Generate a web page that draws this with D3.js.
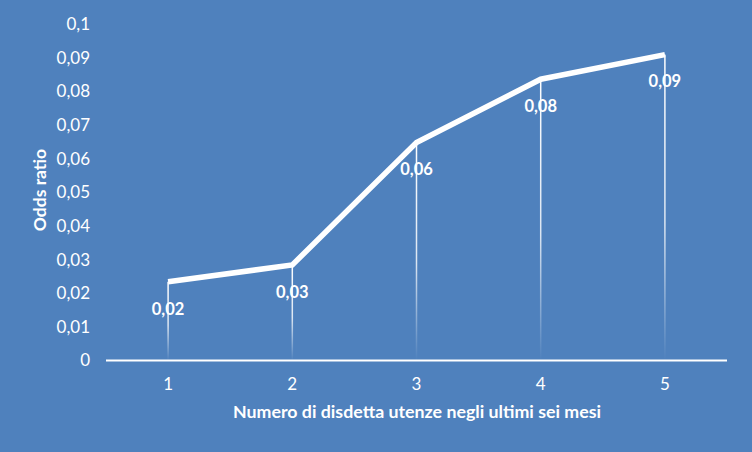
<!DOCTYPE html>
<html><head><meta charset="utf-8">
<script src="https://cdn.jsdelivr.net/npm/d3@7"></script>
<style>body{margin:0;background:#4F81BD;} svg{display:block;}</style>
</head><body><svg id="c" width="752" height="452"></svg>
<script>
const categories = ["1","2","3","4","5"];
const values = [0.0234, 0.0284, 0.0648, 0.0836, 0.0909];
const yTicks = [0,0.01,0.02,0.03,0.04,0.05,0.06,0.07,0.08,0.09,0.1];
const xTitle = "Numero di disdetta utenze negli ultimi sei mesi";
const yTitle = "Odds ratio";

const svg = d3.select("#c");
const font = "Lato, 'Open Sans', sans-serif";
svg.append("rect").attr("width",752).attr("height",452).attr("fill","#4F81BD");
const x = d3.scaleBand().domain(categories).range([106,727]);
const y = d3.scaleLinear().domain([0,0.1]).range([360.5,24]);
const fmt = v => d3.format(".2~f")(v).replace(".",",");

const defs = svg.append("defs");
const g = defs.append("linearGradient").attr("id","drop").attr("x1",0).attr("x2",0).attr("y1",0).attr("y2",1);
g.append("stop").attr("offset","0%").attr("stop-color","#fff").attr("stop-opacity",1);
g.append("stop").attr("offset","55%").attr("stop-color","#fff").attr("stop-opacity",0.8);
g.append("stop").attr("offset","100%").attr("stop-color","#fff").attr("stop-opacity",0);

// y tick labels
svg.append("g").selectAll("text").data(yTicks).join("text")
  .attr("x",90).attr("y",d=>y(d)).attr("dy","0.35em").attr("text-anchor","end")
  .attr("fill","#fff").attr("font-family",font).attr("font-size",17)
  .text(d=>d===0?"0":fmt(d));

// drop lines
svg.append("g").selectAll("rect").data(values).join("rect")
  .attr("x",(d,i)=>x(categories[i])+x.bandwidth()/2-0.75).attr("width",1.5)
  .attr("y",d=>y(d)).attr("height",d=>y(0)-y(d)).attr("fill","url(#drop)");

// axis line
svg.append("line").attr("x1",106).attr("x2",727).attr("y1",y(0)).attr("y2",y(0))
  .attr("stroke","#fff").attr("stroke-width",2);

// x tick labels
svg.append("g").selectAll("text").data(categories).join("text")
  .attr("x",d=>x(d)+x.bandwidth()/2).attr("y",384).attr("dy","0.35em").attr("text-anchor","middle")
  .attr("fill","#fff").attr("font-family",font).attr("font-size",17).text(d=>d);

// line
const line = d3.line().x((d,i)=>x(categories[i])+x.bandwidth()/2).y(d=>y(d));
svg.append("path").datum(values).attr("d",line).attr("fill","none")
  .attr("stroke","#fff").attr("stroke-width",5.5).attr("stroke-linejoin","miter").attr("stroke-linecap","butt");

// data labels
svg.append("g").selectAll("text").data(values).join("text")
  .attr("x",(d,i)=>x(categories[i])+x.bandwidth()/2).attr("y",d=>y(d)+27).attr("dy","0.35em")
  .attr("text-anchor","middle").attr("fill","#fff").attr("font-family",font)
  .attr("font-weight","bold").attr("font-size",16.5).text(d=>fmt(d));

// titles
svg.append("text").attr("x",417).attr("y",412).attr("dy","0.35em").attr("text-anchor","middle")
  .attr("fill","#fff").attr("font-family",font).attr("font-weight","bold").attr("font-size",17.8).text(xTitle);
svg.append("text").attr("transform","translate(40,190) rotate(-90)").attr("dy","0.35em").attr("text-anchor","middle")
  .attr("fill","#fff").attr("font-family",font).attr("font-weight","bold").attr("font-size",17.5).text(yTitle);
</script></body></html>
